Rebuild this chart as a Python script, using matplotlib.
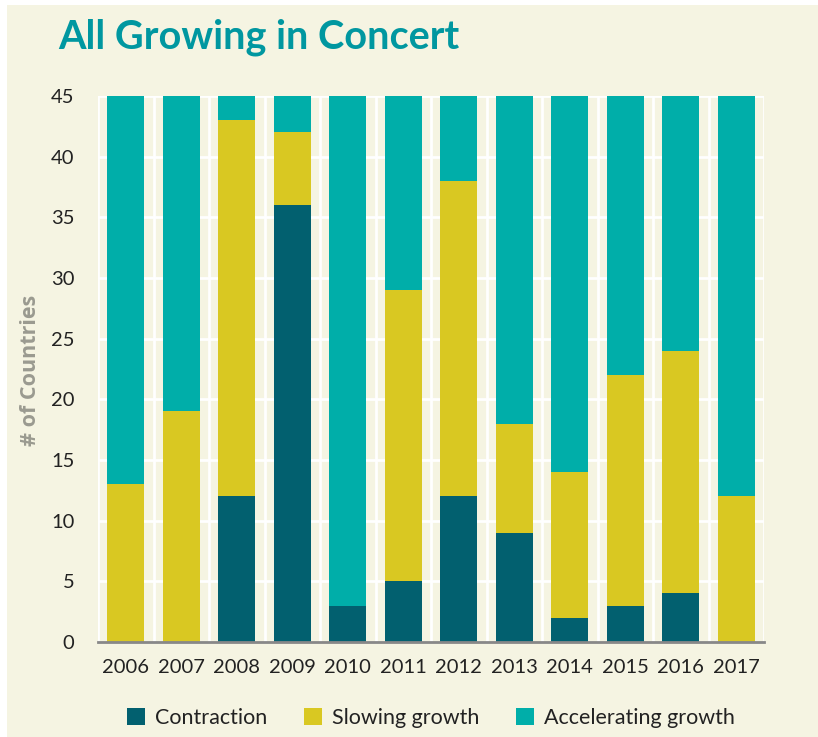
import matplotlib
matplotlib.use("Agg")
import matplotlib.pyplot as plt
import numpy as np
from matplotlib.patches import Rectangle

years = ["2006", "2007", "2008", "2009", "2010", "2011", "2012", "2013", "2014", "2015", "2016", "2017"]
contraction = [0, 0, 12, 36, 3, 5, 12, 9, 2, 3, 4, 0]
slowing = [13, 19, 31, 6, 0, 24, 26, 9, 12, 19, 20, 12]
accelerating = [32, 26, 2, 3, 42, 16, 7, 27, 31, 23, 21, 33]
series_names = ["Contraction", "Slowing growth", "Accelerating growth"]

c_con = "#02606F"
c_slow = "#D9C822"
c_acc = "#00AEA9"
bg = "#F5F4E2"
txt = "#222222"

fig = plt.figure(figsize=(8.18, 7.37), dpi=100)
fig.patch.set_facecolor("white")
fig.patches.append(Rectangle((7/818, 0), 1 - 7/818, 1 - 5/737, transform=fig.transFigure,
                             facecolor=bg, edgecolor="none", zorder=-10))

ax = fig.add_axes([98/818, 1 - 642/737, 666/818, 546/737])
ax.set_facecolor(bg)
x = np.arange(len(years))
con = np.array(contraction)
slo = np.array(slowing)
acc = np.array(accelerating)
w = 0.67
ax.bar(x, con, w, color=c_con, zorder=3, label=series_names[0])
ax.bar(x, slo, w, bottom=con, color=c_slow, zorder=3, label=series_names[1])
ax.bar(x, acc, w, bottom=con + slo, color=c_acc, zorder=3, label=series_names[2])

ax.set_xlim(-0.5, len(years) - 0.5)
ax.set_ylim(0, 45)
ax.set_yticks(np.arange(0, 46, 5))
for yv in np.arange(5, 46, 5):
    ax.axhline(yv, color="white", lw=2, zorder=1)
for xv in np.arange(-0.5, len(years), 1.0):
    ax.axvline(xv, color="white", lw=2, zorder=1)
for s in ["top", "right", "left"]:
    ax.spines[s].set_visible(False)
ax.spines["bottom"].set_color("#888888")
ax.spines["bottom"].set_linewidth(2)
ax.spines["bottom"].set_zorder(4)

fam = ["Lato", "DejaVu Sans"]
ax.set_xticks(x)
ax.set_xticklabels(years, fontsize=14.5, family=fam, color=txt)
ax.tick_params(axis="both", length=0, colors=txt)
ax.tick_params(axis="x", pad=12)
ax.tick_params(axis="y", pad=17)
for lab in ax.get_yticklabels():
    lab.set_fontsize(14.5)
    lab.set_family(fam)

fig.text(30/818, 1 - 370/737, "# of Countries", fontsize=15.5, fontweight="bold", color="#9A9A90",
         family=["Open Sans", "DejaVu Sans"], rotation=90, va="center", ha="center")

fig.text(58/818, 1 - 37/737, "All Growing in Concert", fontsize=28.5, fontweight="bold",
         color="#0097A0", family=["Lato", "DejaVu Sans"], va="center", ha="left")

leg = ax.legend(loc="upper center", bbox_to_anchor=(0.5, -0.085), ncol=3, frameon=False,
                prop={"family": fam, "size": 15.5}, handlelength=0.85, handleheight=0.85,
                handletextpad=0.45, columnspacing=1.7)
for t in leg.get_texts():
    t.set_color(txt)

fig.savefig("out.png", dpi=100, facecolor=fig.get_facecolor())
